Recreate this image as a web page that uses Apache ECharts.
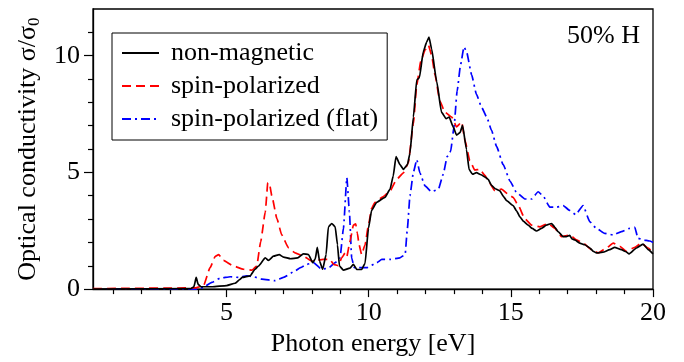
<!DOCTYPE html>
<html>
<head>
<meta charset="utf-8">
<script src="https://cdn.jsdelivr.net/npm/echarts@6/dist/echarts.min.js"></script>
<style>
  html, body { margin: 0; padding: 0; background: #fff; }
  #chart { width: 684px; height: 362px; }
</style>
</head>
<body>
<div id="chart"></div>
<script>
// 非磁性
const nmX = [0.3, 3.75, 3.85, 3.93, 4.0, 4.1, 4.5, 5.0, 5.3, 5.45, 5.55, 5.83, 6.0, 6.12, 6.36, 6.47, 6.65, 6.85, 7.0, 7.25, 7.5, 7.7, 7.88, 8.03, 8.12, 8.19, 8.27, 8.38, 8.5, 8.58, 8.7, 8.82, 8.9, 8.97, 9.11, 9.34, 9.46, 9.58, 9.75, 9.87, 9.99, 10.1, 10.28, 10.57, 10.75, 10.86, 10.96, 11.1, 11.22, 11.36, 11.45, 11.57, 11.69, 11.78, 11.92, 12.04, 12.12, 12.21, 12.39, 12.56, 12.72, 12.83, 12.97, 13.09, 13.21, 13.3, 13.44, 13.53, 13.65, 13.79, 13.95, 14.09, 14.2, 14.32, 14.45, 14.61, 14.75, 14.85, 15.08, 15.2, 15.32, 15.45, 15.61, 15.75, 15.9, 16.08, 16.25, 16.43, 16.55, 16.66, 16.84, 16.95, 17.07, 17.15, 17.25, 17.42, 17.6, 17.78, 17.9, 18.01, 18.24, 18.48, 18.65, 18.89, 19.05, 19.16, 19.42, 19.65, 19.83, 20];
const nmY = [0, 0.02, 0.1, 0.5, 0.2, 0.1, 0.1, 0.15, 0.25, 0.4, 0.5, 0.57, 0.85, 0.99, 1.34, 1.23, 1.41, 1.48, 1.37, 1.3, 1.34, 1.51, 1.48, 1.13, 1.3, 1.79, 1.2, 0.85, 1.48, 2.67, 2.81, 2.67, 1.9, 0.99, 0.81, 0.9, 1.06, 0.84, 0.84, 1.1, 2.6, 3.37, 3.72, 3.93, 4.28, 4.84, 5.68, 5.33, 5.13, 5.33, 5.82, 7.37, 8.97, 9.05, 10.17, 10.59, 10.8, 10.3, 8.9, 7.58, 7.3, 7.37, 6.95, 6.6, 6.7, 7.02, 5.97, 5.13, 4.92, 4.99, 4.9, 4.8, 4.7, 4.45, 4.3, 4.21, 3.95, 3.79, 3.58, 3.35, 3.09, 2.9, 2.74, 2.6, 2.49, 2.6, 2.74, 2.81, 2.65, 2.46, 2.25, 2.25, 2.3, 2.15, 2.11, 1.97, 1.9, 1.76, 1.62, 1.55, 1.58, 1.69, 1.79, 1.69, 1.6, 1.51, 1.76, 1.93, 1.69, 1.51];

// 自旋极化
const spX = [0.3, 3.9, 4.19, 4.42, 4.6, 4.72, 4.89, 5.24, 5.59, 5.89, 6.06, 6.2, 6.36, 6.45, 6.51, 6.59, 6.77, 6.94, 7.18, 7.41, 7.7, 8.0, 8.4, 8.64, 8.76, 8.93, 9.05, 9.17, 9.23, 9.34, 9.46, 9.54, 9.6, 9.66, 9.75, 9.87, 9.99, 10.1, 10.22, 10.5, 10.75, 10.98, 11.22, 11.39, 11.57, 11.69, 11.83, 11.98, 12.1, 12.21, 12.33, 12.5, 12.68, 12.92, 13.09, 13.27, 13.38, 13.56, 13.73, 13.91, 14.09, 14.2, 14.44, 14.67, 14.9, 15.08, 15.26, 15.49, 15.73, 16.02, 16.31, 16.55, 16.78, 17.07, 17.31, 17.54, 17.84, 18.07, 18.36, 18.6, 18.83, 19.07, 19.36, 19.59, 19.83, 20];
const spY = [0.02, 0.05, 0.15, 0.92, 1.4, 1.48, 1.23, 0.99, 0.85, 0.81, 0.99, 2.04, 3.3, 4.56, 4.5, 4.0, 3.02, 2.32, 1.76, 1.55, 1.41, 1.2, 1.27, 1.27, 1.06, 1.0, 1.34, 1.55, 1.4, 2.04, 2.74, 2.8, 2.4, 1.9, 1.48, 1.9, 2.74, 3.45, 3.72, 3.95, 4.2, 4.7, 4.98, 5.4, 7.08, 8.76, 9.75, 10.24, 10.45, 10.03, 9.18, 8.07, 7.58, 7.37, 6.95, 7.16, 6.39, 5.5, 5.1, 5.13, 4.87, 4.63, 4.21, 4.28, 4.07, 3.93, 3.58, 3.02, 2.74, 2.67, 2.81, 2.6, 2.25, 2.32, 2.11, 1.97, 1.69, 1.55, 1.76, 1.97, 1.83, 1.62, 1.79, 1.97, 1.76, 1.55];

// 自旋极化 (flat)
const flatX = [0.3, 4.0, 4.19, 4.48, 4.78, 5.13, 5.42, 5.71, 5.95, 6.24, 6.71, 7.0, 7.41, 7.6, 7.82, 8.05, 8.35, 8.58, 8.82, 8.99, 9.11, 9.23, 9.32, 9.4, 9.49, 9.93, 10.28, 10.46, 10.75, 11.1, 11.28, 11.36, 11.45, 11.57, 11.69, 11.8, 11.98, 12.21, 12.45, 12.62, 12.76, 12.88, 13.0, 13.11, 13.23, 13.35, 13.44, 13.62, 13.79, 13.97, 14.15, 14.32, 14.5, 14.73, 14.97, 15.2, 15.49, 15.73, 15.96, 16.13, 16.37, 16.61, 16.84, 17.07, 17.28, 17.54, 17.78, 18.01, 18.3, 18.6, 18.89, 19.18, 19.36, 19.47, 19.65, 19.88, 20];
const flatY = [0, 0, 0.08, 0.29, 0.47, 0.53, 0.5, 0.57, 0.53, 0.43, 0.36, 0.5, 0.78, 0.92, 1.06, 1.13, 0.85, 0.9, 1.13, 1.34, 2.6, 4.77, 3.3, 1.34, 0.92, 0.92, 1.13, 1.27, 1.27, 1.34, 1.48, 2.6, 4.0, 5.0, 5.55, 4.98, 4.42, 4.17, 4.28, 4.92, 5.68, 5.9, 6.95, 8.49, 9.6, 10.38, 10.17, 9.18, 8.34, 7.79, 7.37, 6.8, 6.1, 5.33, 4.63, 4.14, 3.86, 3.86, 4.17, 4.0, 3.51, 3.51, 3.58, 3.37, 3.19, 3.58, 2.88, 2.6, 2.39, 2.32, 2.46, 2.6, 2.65, 2.18, 2.11, 2.06, 2.0];

const xMajor = [5, 10, 15, 20];
const xMinor = [1, 2, 3, 4, 6, 7, 8, 9, 11, 12, 13, 14, 16, 17, 18, 19];
const yMajor = [0, 5, 10];
const yMinor = [1, 2, 3, 4, 6, 7, 8, 9, 11];

const pairs = (xs, ys) => xs.map((x, i) => [x, ys[i]]);

const font = "Liberation Serif";
const axisBase = {
  type: "value",
  splitLine: { show: false },
  axisLine: { show: true, lineStyle: { color: "#000", width: 1.3 } },
};

const option = {
  animation: false,
  grid: {
    left: 93,
    right: 31,
    top: 9,
    bottom: 67,
    show: true,
    borderColor: "#000",
    borderWidth: 1.3,
  },
  legend: {
    left: 112,
    top: 33,
    orient: "vertical",
    itemWidth: 37,
    itemHeight: 14,
    itemGap: 7,
    padding: [7, 9, 8, 9],
    borderColor: "#000",
    borderWidth: 1,
    itemStyle: { opacity: 0 },
    lineStyle: { width: 2 },
    textStyle: { fontFamily: font, fontSize: 26, color: "#000", lineHeight: 26, padding: [0, 0, 0, 7] },
  },
  xAxis: [
    {
      ...axisBase,
      min: 0.3,
      max: 20,
      name: "Photon energy [eV]",
      nameLocation: "middle",
      nameGap: 33,
      nameTextStyle: { fontFamily: font, fontSize: 26, color: "#000" },
      axisTick: { customValues: xMajor, length: 8, lineStyle: { color: "#000", width: 1.2 } },
      axisLabel: { customValues: xMajor, margin: 11, fontFamily: font, fontSize: 26, color: "#000" },
    },
    {
      ...axisBase,
      position: "bottom",
      min: 0.3,
      max: 20,
      axisLine: { show: false },
      axisTick: { customValues: xMinor, length: 5, lineStyle: { color: "#000", width: 1.2 } },
      axisLabel: { show: false },
    },
  ],
  yAxis: [
    {
      ...axisBase,
      min: 0,
      max: 12,
      name: "Optical conductivity σ/σ{sub|0}",
      nameLocation: "middle",
      nameGap: 49,
      nameTextStyle: {
        fontFamily: font,
        fontSize: 26,
        color: "#000",
        rich: { sub: { fontFamily: font, fontSize: 17, color: "#000", verticalAlign: "bottom", padding: [12, 0, 0, 0] } },
      },
      axisTick: { customValues: yMajor, length: 9, lineStyle: { color: "#000", width: 1.2 } },
      axisLabel: { customValues: yMajor, margin: 13, fontFamily: font, fontSize: 26, color: "#000" },
    },
    {
      ...axisBase,
      position: "left",
      min: 0,
      max: 12,
      axisLine: { show: false },
      axisTick: { customValues: yMinor, length: 5, lineStyle: { color: "#000", width: 1.2 } },
      axisLabel: { show: false },
    },
  ],
  graphic: [
    {
      type: "text",
      right: 44,
      top: 23,
      style: { text: "50% H", font: "26px 'Liberation Serif'", fill: "#000" },
    },
  ],
  series: [
    {
      name: "non-magnetic",
      type: "line",
      symbol: "none",
      smooth: 0.15,
      smoothMonotone: "x",
      lineStyle: { color: "#000", width: 1.7, type: "solid" },
      itemStyle: { color: "#000" },
      data: pairs(nmX, nmY),
      z: 4,
    },
    {
      name: "spin-polarized",
      type: "line",
      symbol: "none",
      smooth: 0.15,
      smoothMonotone: "x",
      lineStyle: { color: "#ff0000", width: 1.7, type: [9, 5] },
      itemStyle: { color: "#ff0000" },
      data: pairs(spX, spY),
      z: 3,
    },
    {
      name: "spin-polarized (flat)",
      type: "line",
      symbol: "none",
      smooth: 0.15,
      smoothMonotone: "x",
      lineStyle: { color: "#0000ff", width: 1.7, type: [9, 4, 2, 4] },
      itemStyle: { color: "#0000ff" },
      data: pairs(flatX, flatY),
      z: 2,
    },
  ],
};

const myChart = echarts.init(document.getElementById("chart"));
myChart.setOption(option);
</script>
</body>
</html>
